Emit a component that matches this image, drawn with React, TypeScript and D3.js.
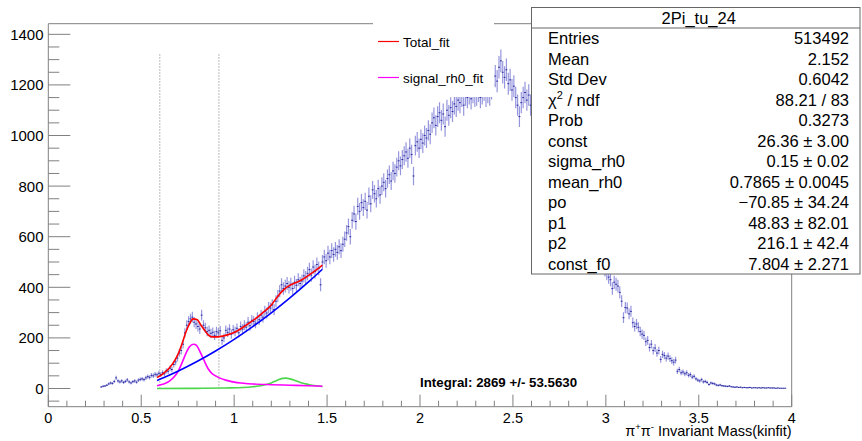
import React from "react";
import * as d3 from "d3";

// ---------- DATA ----------
const BIN_START = 0.28;
const BIN_WIDTH = 0.01;
const counts: number[] = [
  // 0.28-0.29
  6, 9,
  // 0.30
  10, 13, 18, 22, 20, 28, 42, 30, 26, 30,
  // 0.40
  24, 28, 34, 26, 22, 27, 30, 25, 33, 36,
  // 0.50
  38, 35, 42, 47, 44, 52, 50, 56, 54, 60,
  // 0.60
  55, 62, 58, 70, 68, 80, 75, 95, 105, 120,
  // 0.70
  140, 150, 175, 220, 250, 265, 275, 282, 262, 255,
  // 0.80
  245, 235, 290, 250, 240, 225, 230, 218, 222, 210,
  // 0.90
  225, 220, 228, 190, 200, 230, 222, 235, 215, 232,
  // 1.00
  225, 238, 220, 245, 235, 250, 242, 262, 248, 270,
  // 1.10
  265, 258, 280, 272, 290, 282, 305, 298, 320, 318,
  // 1.20
  330, 312, 345, 365, 385, 410, 395, 405, 415, 400,
  // 1.30
  412, 395, 420, 408, 430, 415, 425, 445, 438, 455,
  // 1.40
  470, 448, 480, 462, 490, 475, 410, 500, 520, 505,
  // 1.50
  535, 520, 545, 530, 550, 538, 560, 545, 570, 590,
  // 1.60
  615, 640, 600, 665, 690, 660, 720, 700, 735, 715,
  // 1.70
  740, 705, 760, 730, 785, 770, 750, 790, 765, 800,
  // 1.80
  815, 790, 830, 845, 820, 860, 850, 875, 900, 880,
  // 1.90
  905, 920, 935, 910, 950, 925, 840, 960, 975, 950,
  // 2.00
  985, 970, 1000, 990, 1020, 1005, 1050, 1070, 1040, 1075,
  // 2.10
  1090, 1060, 1085, 1035, 1100, 1080, 1110, 1095, 1125, 1115,
  // 2.20
  1140, 1130, 1155, 1120, 1160, 1150, 1165, 1145, 1170, 1155,
  // 2.30
  1160, 1175, 1150, 1165, 1180, 1155, 1170, 1160, 1185, 1200,
  // 2.40
  1235, 1215, 1270, 1295, 1250, 1230, 1260, 1205, 1220, 1180,
  // 2.50
  1195, 1150, 1120, 1075, 1130, 1150, 1170, 1140, 1160, 1120,
  // 2.60
  1110, 1090, 1075, 1060, 1040, 1020, 1000, 985, 960, 945,
  // 2.70
  920, 905, 880, 860, 845, 820, 800, 785, 760, 745,
  // 2.80
  720, 705, 690, 670, 655, 640, 620, 610, 595, 580,
  // 2.90
  565, 555, 540, 530, 520, 510, 500, 490, 480, 470,
  // 3.00
  455, 440, 430, 395, 420, 412, 405, 380, 345, 280,
  // 3.10
  320, 318, 295, 305, 260, 245, 255, 242, 225, 215,
  // 3.20
  210, 185, 190, 162, 175, 150, 160, 140, 150, 115,
  // 3.30
  135, 130, 120, 128, 118, 110, 104, 112, 68, 75,
  // 3.40
  62, 65, 58, 62, 52, 55, 45, 48, 38, 33,
  // 3.50
  30, 35, 26, 28, 24, 16, 22, 20, 18, 14,
  // 3.60
  12, 14, 11, 10, 9, 8, 10, 7, 6, 5,
  // 3.70
  6, 4, 5, 3, 4, 3, 3, 4, 2, 3,
  // 3.80
  3, 2, 3, 2, 3, 2, 2, 3, 2, 2,
  // 3.90
  2, 1, 2, 1, 1, 1, 1,
];
const ERR_SCALE = 1.25;

const totalFitX = [0.585, 0.62, 0.65, 0.68, 0.70, 0.72, 0.74, 0.76, 0.78, 0.80, 0.82, 0.84, 0.86, 0.88, 0.90, 0.92, 0.96, 1.0, 1.05, 1.1, 1.15, 1.2, 1.23, 1.26, 1.28, 1.30, 1.33, 1.36, 1.40, 1.44, 1.475];
const totalFitY = [43, 60, 80, 110, 139, 178, 222, 256, 275, 273, 252, 231, 212, 204, 204, 205, 211, 221, 243, 268, 297, 330, 360, 386, 399, 408, 418, 428, 447, 468, 488];

const signalX = [0.585, 0.62, 0.65, 0.68, 0.70, 0.72, 0.74, 0.76, 0.78, 0.79, 0.80, 0.82, 0.84, 0.86, 0.88, 0.90, 0.92, 0.96, 1.0, 1.05, 1.1, 1.2, 1.3, 1.4, 1.475];
const signalY = [11, 18, 28, 48, 70, 102, 138, 165, 175, 174, 168, 140, 108, 78, 60, 50, 42, 32, 25, 21, 18, 15, 13, 11, 9];

const bkgX = [0.585, 0.65, 0.7, 0.8, 0.9, 1.0, 1.1, 1.2, 1.3, 1.4, 1.475];
const bkgY = [31.7, 52.2, 69.2, 106.5, 148.1, 194.1, 244.3, 298.9, 357.8, 421.1, 471.3];

const f0X = [0.585, 0.8, 0.95, 1.05, 1.1, 1.15, 1.2, 1.23, 1.26, 1.28, 1.3, 1.33, 1.36, 1.4, 1.44, 1.475];
const f0Y = [0, 0.5, 2, 4, 7, 12, 22, 32, 40, 41, 38, 31, 23, 16, 11, 8];

const cutLines = [0.6, 0.918];
const cutTop = 1325;

const xTicks = [0, 0.5, 1, 1.5, 2, 2.5, 3, 3.5, 4];
const xTickLabels = ["0", "0.5", "1", "1.5", "2", "2.5", "3", "3.5", "4"];
const yTicks = [0, 200, 400, 600, 800, 1000, 1200, 1400];

const statsTitle = "2Pi_tu_24";
const statsLabels = ["Entries", "Mean", "Std Dev", "χ2 / ndf", "Prob", "const", "sigma_rh0", "mean_rh0", "po", "p1", "p2", "const_f0"];
const statsValues = ["513492", "2.152", "0.6042", "88.21 / 83", "0.3273", "26.36 ± 3.00", "0.15 ± 0.02", "0.7865 ± 0.0045", "−70.85 ± 34.24", "48.83 ± 82.01", "216.1 ± 42.4", "7.804 ± 2.271"];

const legendLabels = ["Total_fit", "signal_rh0_fit"];
const integralText = "Integral: 2869 +/- 53.5630";

// ---------- LAYOUT ----------
const W = 862, H = 441;
const FL = 48.3, FR = 791.7, FT = 23.7, FB = 406.7;
const FONT = "'Liberation Sans', Arial, Helvetica, sans-serif";
const AXIS_COLOR = "#808080";

export default function App() {
  const x = d3.scaleLinear().domain([0, 4]).range([FL, FR]);
  const y = d3.scaleLinear().domain([-72, 1442]).range([FB, FT]);

  const line = d3
    .line<[number, number]>()
    .x((d) => x(d[0]))
    .y((d) => y(d[1]))
    .curve(d3.curveMonotoneX);
  const path = (xs: number[], ys: number[]) => line(xs.map((v, i) => [v, ys[i]] as [number, number])) || "";

  const bins = counts
    .map((c, i) => ({ c, lo: BIN_START + i * BIN_WIDTH, hi: BIN_START + (i + 1) * BIN_WIDTH }))
    .filter((b) => b.c > 0);

  const xMinor = d3.range(0, 41).map((i) => i / 10);
  const yMinor = d3.range(-50, 1441, 50);

  // stats box geometry
  const SB_L = 531.5, SB_R = 860, SB_T = 7.5, SB_TITLE = 28, SB_B = 274;
  const rowH = (SB_B - SB_TITLE) / statsLabels.length;

  return (
    <svg width={W} height={H} style={{ position: "absolute", left: 0, top: 0, background: "#fff" }} fontFamily={FONT}>
      <defs>
        <clipPath id="frameClip">
          <rect x={FL} y={FT} width={FR - FL} height={FB - FT} />
        </clipPath>
      </defs>
      <rect x={0} y={0} width={W} height={H} fill="#fff" />

      {/* frame */}
      <line x1={FL} x2={FR} y1={FT} y2={FT} stroke={AXIS_COLOR} strokeWidth={1} />
      <line x1={FR} x2={FR} y1={FT} y2={FB} stroke={AXIS_COLOR} strokeWidth={1} />

      {/* histogram */}
      <g clipPath="url(#frameClip)">
        {bins.map((b, i) => {
          const err = ERR_SCALE * Math.sqrt(b.c);
          const xc = x((b.lo + b.hi) / 2);
          return (
            <g key={i}>
              <line x1={xc} x2={xc} y1={y(b.c - err)} y2={y(b.c + err)} stroke="#5050c8" strokeOpacity={0.6} strokeWidth={1.2} />
              <line x1={x(b.lo)} x2={x(b.hi)} y1={y(b.c)} y2={y(b.c)} stroke="#2a2aa0" strokeWidth={1} />
            </g>
          );
        })}
        {/* cut lines */}
        {cutLines.map((c, i) => (
          <line key={i} x1={x(c)} x2={x(c)} y1={y(0)} y2={y(cutTop)} stroke="#555" strokeWidth={0.8} strokeDasharray="1,2" />
        ))}
        {/* fits */}
        <path d={path(f0X, f0Y)} fill="none" stroke="#4cd64c" strokeWidth={1.6} />
        <path d={path(signalX, signalY)} fill="none" stroke="#ff00ff" strokeWidth={1.6} />
        <path d={path(bkgX, bkgY)} fill="none" stroke="#0000ff" strokeWidth={1.6} />
        <path d={path(totalFitX, totalFitY)} fill="none" stroke="#ff0000" strokeWidth={1.6} />
      </g>

      {/* axes */}
      <line x1={FL} x2={FL} y1={FT} y2={FB} stroke={AXIS_COLOR} strokeWidth={1} />
      <line x1={FL} x2={FR} y1={FB} y2={FB} stroke={AXIS_COLOR} strokeWidth={1} />
      {xMinor.map((t, i) => (
        <line key={"xm" + i} x1={x(t)} x2={x(t)} y1={FB} y2={FB - (i % 5 === 0 ? 12 : 6)} stroke={AXIS_COLOR} strokeWidth={1} />
      ))}
      {yMinor.map((t, i) => (
        <line key={"ym" + i} x1={FL} x2={FL + (t % 200 === 0 ? 22 : 11)} y1={y(t)} y2={y(t)} stroke={AXIS_COLOR} strokeWidth={1} />
      ))}
      {xTicks.map((t, i) => (
        <text key={"xl" + i} x={x(t)} y={422.5} textAnchor="middle" fontSize={14.5} fill="#000">
          {xTickLabels[i]}
        </text>
      ))}
      {yTicks.map((t, i) => (
        <text key={"yl" + i} x={43.5} y={y(t) + 5.5} textAnchor="end" fontSize={15} fill="#000">
          {t}
        </text>
      ))}
      <text x={FR} y={435.5} textAnchor="end" fontSize={14.5} fill="#000">
        π<tspan fontSize={9.5} dy={-5.5}>+</tspan>
        <tspan dy={5.5}>π</tspan>
        <tspan fontSize={9.5} dy={-5.5}>-</tspan>
        <tspan dy={5.5}> Invariant Mass(kinfit)</tspan>
      </text>

      {/* integral label */}
      <text x={420} y={386.5} fontSize={13.3} fontWeight="bold" fill="#000">
        {integralText}
      </text>

      {/* legend */}
      <rect x={373} y={10} width={121} height={87} fill="#fff" />
      <line x1={378} x2={399} y1={41.5} y2={41.5} stroke="#ff0000" strokeWidth={1.2} />
      <text x={403} y={46.5} fontSize={13.5} fill="#000">{legendLabels[0]}</text>
      <line x1={378} x2={399} y1={77.5} y2={77.5} stroke="#ff00ff" strokeWidth={1.2} />
      <text x={403} y={82.5} fontSize={13.5} fill="#000">{legendLabels[1]}</text>

      {/* stats box */}
      <rect x={SB_L} y={SB_T} width={SB_R - SB_L} height={SB_B - SB_T} fill="#fff" stroke="#666" strokeWidth={1} />
      <line x1={SB_L} x2={SB_R} y1={SB_TITLE} y2={SB_TITLE} stroke="#666" strokeWidth={1} />
      <text x={(SB_L + SB_R) / 2 + 3} y={23.5} textAnchor="middle" fontSize={16.5} fill="#000">
        {statsTitle}
      </text>
      {statsLabels.map((lab, i) => {
        const cy = SB_TITLE + rowH * (i + 0.5);
        return (
          <g key={"s" + i}>
            <text x={548} y={cy + 6} fontSize={16.5} fill="#000">
              {lab === "χ2 / ndf" ? (
                <>
                  χ<tspan fontSize={11} dy={-7}>2</tspan>
                  <tspan dy={7}> / ndf</tspan>
                </>
              ) : (
                lab
              )}
            </text>
            <text x={849} y={cy + 6} textAnchor="end" fontSize={16.5} fill="#000">
              {statsValues[i]}
            </text>
          </g>
        );
      })}
    </svg>
  );
}
